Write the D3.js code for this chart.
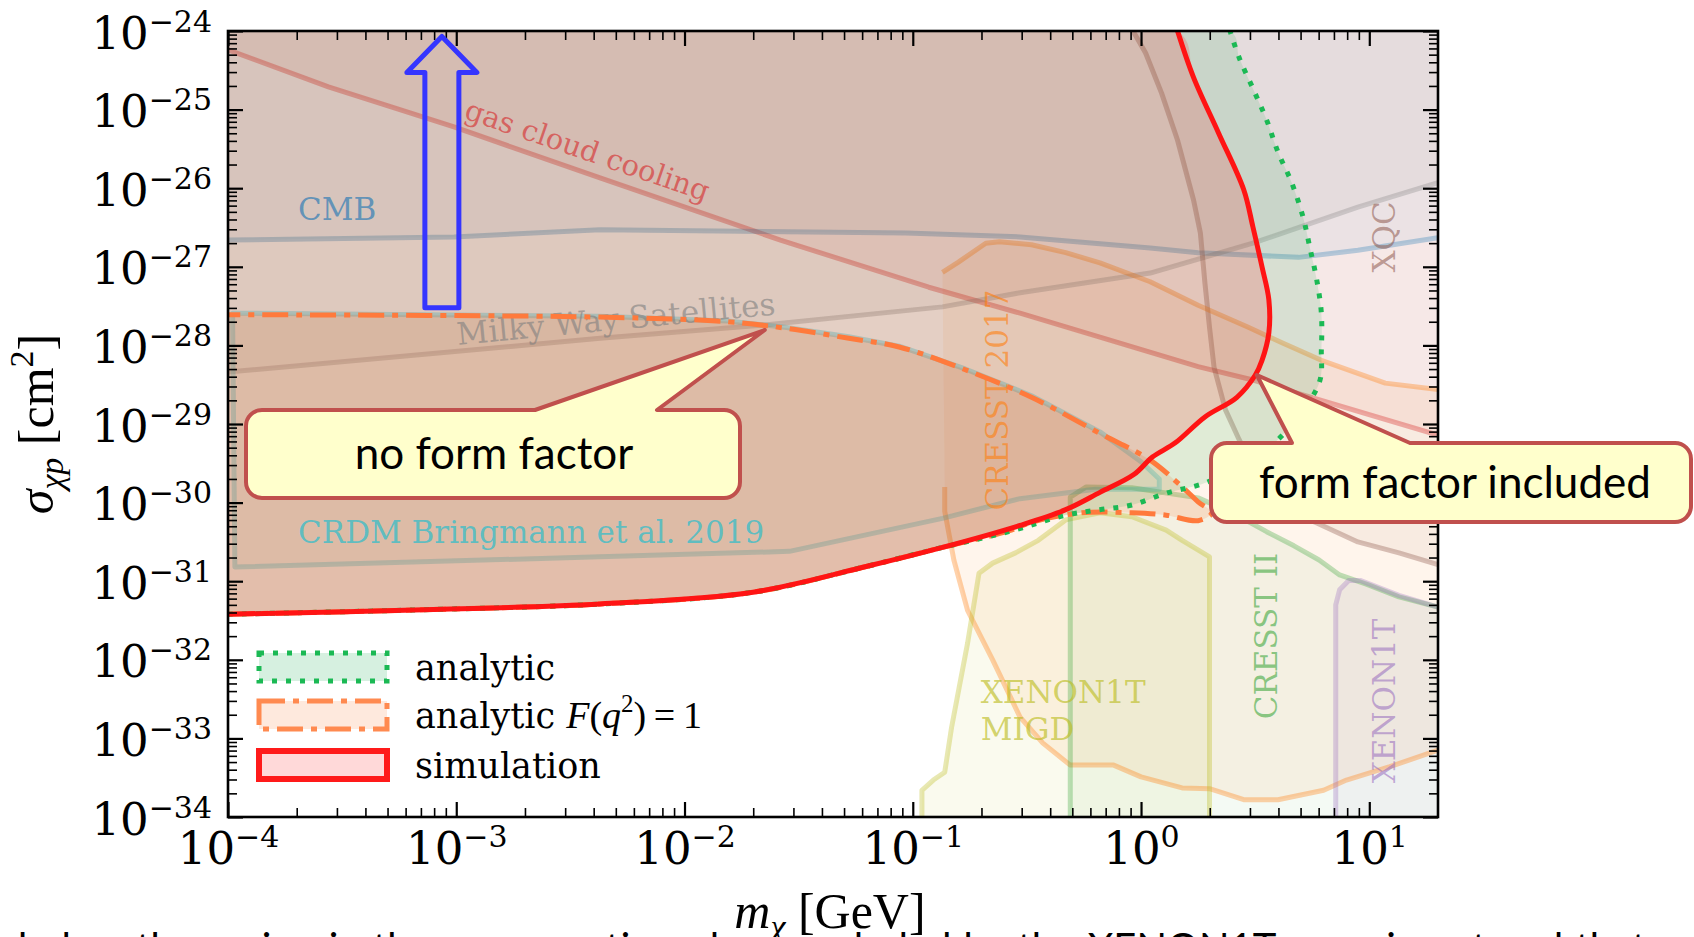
<!DOCTYPE html>
<html>
<head>
<meta charset="utf-8">
<script src="https://cdnjs.cloudflare.com/ajax/libs/d3/7.8.5/d3.min.js"></script>
<style>
  html, body { margin: 0; padding: 0; background: #ffffff; }
  svg { display: block; }
</style>
</head>
<body>
<svg id="chart" width="1694" height="937"></svg>
<script>
// ---------------------------------------------------------------
// Exclusion limits on the DM–proton cross section.
// Every curve is a list of points [log10(m_chi / GeV), log10(sigma / cm^2)].
// ---------------------------------------------------------------

// axis ticks
const xMajorTicks = [1e-4, 1e-3, 1e-2, 1e-1, 1, 10];
const yMajorTicks = [1e-34, 1e-33, 1e-32, 1e-31, 1e-30, 1e-29, 1e-28, 1e-27, 1e-26, 1e-25, 1e-24];

// astrophysical / cosmological bounds (region above the line is excluded)
const gasCloudCooling = [[-4, -24.24], [-3.56, -24.71], [-3.01, -25.22], [-2.37, -25.87], [-1.58, -26.66],
  [-0.93, -27.26], [-0.53, -27.59], [0.25, -28.27], [0.49, -28.44], [1.301, -29.14]];
const cmb = [[-4, -26.66], [-3.01, -26.62], [-2.37, -26.53], [-1.03, -26.57], [-0.53, -26.62],
  [0.04, -26.76], [0.25, -26.82], [0.69, -26.88], [0.95, -26.79], [1.301, -26.63]];
const milkyWay = [[-4, -28.34], [-2.37, -27.91], [-1.65, -27.74], [-0.87, -27.51], [-0.53, -27.33],
  [0.04, -27.08], [0.49, -26.70], [0.95, -26.24], [1.301, -25.93]];

// XQC: region to the right of / above the line
const xqc = [[-0.035, -24.0], [0.02, -24.28], [0.09, -24.79], [0.16, -25.39], [0.23, -26.15], [0.26, -26.57],
  [0.28, -27.21], [0.30, -27.77], [0.32, -28.28], [0.37, -28.82], [0.43, -29.20], [0.50, -29.59],
  [0.58, -29.97], [0.69, -30.16], [0.77, -30.26], [0.95, -30.50], [1.13, -30.64], [1.301, -30.79]];

// CRESST 2017 surface run: band between the upper and lower limit
const cresst2017Upper = [[-0.87, -27.07], [-0.80, -26.94], [-0.68, -26.70], [-0.62, -26.68], [-0.48, -26.72],
  [-0.33, -26.82], [-0.18, -26.95], [0.04, -27.19], [0.25, -27.49], [0.47, -27.77], [0.62, -27.97],
  [0.79, -28.19], [1.07, -28.48], [1.301, -28.56]];
const cresst2017Lower = [[-0.86, -29.80], [-0.86, -30.11], [-0.82, -30.73], [-0.76, -31.37], [-0.65, -32.00],
  [-0.53, -32.73], [-0.43, -33.06], [-0.31, -33.34], [-0.12, -33.34], [0.00, -33.49], [0.18, -33.63],
  [0.30, -33.64], [0.45, -33.78], [0.60, -33.78], [0.80, -33.66], [0.90, -33.53], [1.09, -33.36], [1.301, -33.15]];

// XENON1T Migdal analysis (closed contour)
const xenonMigd = [[-0.96, -34.0], [-0.96, -33.66], [-0.91, -33.53], [-0.86, -33.43], [-0.83, -32.86],
  [-0.76, -31.79], [-0.71, -30.90], [-0.65, -30.77], [-0.55, -30.64], [-0.45, -30.48], [-0.33, -30.22],
  [-0.18, -30.13], [-0.04, -30.18], [0.11, -30.35], [0.18, -30.48], [0.30, -30.69], [0.30, -34.0]];

// CRESST II and XENON1T nuclear-recoil limits (region below the line)
const cresst2 = [[-0.31, -34.0], [-0.31, -29.93], [-0.24, -29.80], [-0.04, -29.81], [0.25, -29.94],
  [0.40, -30.13], [0.55, -30.37], [0.67, -30.55], [0.78, -30.73], [0.87, -30.92], [0.99, -31.04],
  [1.13, -31.20], [1.301, -31.33]];
const xenon1t = [[0.853, -34.0], [0.853, -31.30], [0.87, -31.11], [0.91, -30.99], [0.96, -30.99],
  [1.13, -31.18], [1.301, -31.33]];

// cosmic-ray boosted DM, Bringmann & Pospelov 2019 (closed contour)
const crdm = [[-3.98, -27.59], [-2.37, -27.63], [-1.81, -27.69], [-1.56, -27.77], [-1.28, -27.89],
  [-1.06, -28.01], [-0.77, -28.30], [-0.48, -28.64], [-0.18, -29.10], [0.00, -29.48], [0.08, -29.70],
  [0.08, -29.83], [-0.20, -29.83], [-0.53, -29.95], [-0.87, -30.20], [-1.54, -30.62], [-2.37, -30.69],
  [-3.97, -30.82]];

// this work: analytic with F(q^2)=1, analytic with form factor, and simulation
const analyticNoFF = [[-4, -31.42], [-3.1, -31.36], [-2.37, -31.29], [-1.70, -31.14], [-1.20, -30.81],
  [-0.87, -30.57], [-0.58, -30.36], [-0.48, -30.25], [-0.26, -30.13], [-0.04, -30.13], [0.11, -30.16],
  [0.25, -30.23], [0.31, -30.13], [0.25, -29.99], [0.18, -29.80], [0.04, -29.46], [-0.18, -29.12],
  [-0.48, -28.66], [-0.77, -28.31], [-1.06, -28.02], [-1.28, -27.91], [-1.56, -27.78], [-1.81, -27.70],
  [-2.37, -27.64], [-4, -27.61]];
const analytic = [[-4, -31.42], [-3.1, -31.36], [-2.37, -31.29], [-1.70, -31.14], [-1.20, -30.81],
  [-0.87, -30.57], [-0.58, -30.37], [-0.33, -30.16], [-0.18, -30.09], [-0.04, -30.03], [0.11, -29.88],
  [0.28, -29.75], [0.47, -29.48], [0.61, -29.17], [0.78, -28.48], [0.79, -28.06], [0.79, -27.59],
  [0.77, -27.17], [0.74, -26.76], [0.71, -26.37], [0.66, -25.93], [0.60, -25.54], [0.55, -25.13],
  [0.49, -24.73], [0.43, -24.34], [0.39, -24.0]];
const simulation = [[-4, -31.42], [-3.1, -31.36], [-2.37, -31.29], [-1.70, -31.14], [-1.20, -30.81],
  [-0.87, -30.57], [-0.53, -30.29], [-0.33, -30.09], [-0.18, -29.87], [-0.03, -29.64], [0.05, -29.42],
  [0.15, -29.24], [0.28, -28.91], [0.42, -28.66], [0.50, -28.38], [0.53, -28.19], [0.56, -27.84],
  [0.56, -27.42], [0.53, -27.00], [0.49, -26.49], [0.45, -26.02], [0.34, -25.30], [0.23, -24.59],
  [0.16, -24.0]];

// annotated points
const arrowMass = -3.063;                  // log10 m of the upward arrow
const arrowRange = [-27.52, -24.07];       // log10 sigma, tail -> head
const noFFTip = [-1.648, -27.804];         // callout "no form factor"
const withFFTip = [0.507, -28.377];        // callout "form factor included"

// ---------------------------------------------------------------
const W = 1694, H = 937;
const plot = { left: 228, right: 1438, top: 31, bottom: 817 };
const LX0 = -4, LX1 = Math.log10(20), LY0 = -34, LY1 = -24;

const x = d3.scaleLog().domain([1e-4, 20]).range([plot.left, plot.right]);
const y = d3.scaleLog().domain([1e-34, 1e-24]).range([plot.bottom, plot.top]);
const px = p => x(Math.pow(10, p[0]));
const py = p => y(Math.pow(10, p[1]));

const lineLin = d3.line().x(px).y(py);
const lineSmooth = d3.line().x(px).y(py).curve(d3.curveCatmullRom.alpha(0.5));
const areaPath = pts => lineLin(pts) + "Z";
const areaSmooth = pts => lineSmooth(pts) + "Z";

const svg = d3.select("#chart");
svg.append("rect").attr("width", W).attr("height", H).attr("fill", "#ffffff");

const defs = svg.append("defs");
defs.append("clipPath").attr("id", "plotClip").append("rect")
  .attr("x", plot.left).attr("y", plot.top)
  .attr("width", plot.right - plot.left).attr("height", plot.bottom - plot.top);

const gPlot = svg.append("g").attr("clip-path", "url(#plotClip)");

// --- excluded regions (translucent fills) ---
const regions = [
  { pts: gasCloudCooling.concat([[LX1, LY1], [LX0, LY1]]), color: "#d62728", a: 0.06 },
  { pts: cmb.concat([[LX1, LY1], [LX0, LY1]]), color: "#1f77b4", a: 0.05 },
  { pts: milkyWay.concat([[LX1, LY1], [LX0, LY1]]), color: "#7f7f7f", a: 0.05 },
  { pts: xqc.concat([[LX1, LY1]]), color: "#8c564b", a: 0.06 },
  { pts: cresst2017Upper.concat(cresst2017Lower.slice().reverse()), color: "#ff7f0e", a: 0.08 },
  { pts: xenonMigd, color: "#bcbd22", a: 0.08 },
  { pts: cresst2.concat([[LX1, LY0]]), color: "#2ca02c", a: 0.05 },
  { pts: xenon1t.concat([[LX1, LY0]]), color: "#9467bd", a: 0.06 },
  { pts: crdm, color: "#5f9ea0", a: 0.06 }
];
gPlot.selectAll("path.region").data(regions).join("path")
  .attr("class", "region")
  .attr("d", d => areaPath(d.pts))
  .attr("fill", d => d.color).attr("fill-opacity", d => d.a).attr("stroke", "none");

// --- region boundaries ---
const bounds = [
  { pts: gasCloudCooling, color: "#d62728", a: 0.35 },
  { pts: cmb, color: "#1f77b4", a: 0.3 },
  { pts: milkyWay, color: "#7f7f7f", a: 0.3 },
  { pts: xqc, color: "#8c564b", a: 0.35 },
  { pts: cresst2017Upper, color: "#ff7f0e", a: 0.35 },
  { pts: cresst2017Lower, color: "#ff7f0e", a: 0.35 },
  { pts: xenonMigd, color: "#bcbd22", a: 0.35 },
  { pts: cresst2, color: "#2ca02c", a: 0.3 },
  { pts: xenon1t, color: "#9467bd", a: 0.3 }
];
gPlot.selectAll("path.bound").data(bounds).join("path")
  .attr("class", "bound")
  .attr("d", d => lineLin(d.pts))
  .attr("fill", "none").attr("stroke", d => d.color).attr("stroke-opacity", d => d.a)
  .attr("stroke-width", 5).attr("stroke-linejoin", "round");
gPlot.append("path").attr("d", areaPath(crdm))
  .attr("fill", "none").attr("stroke", "#17becf").attr("stroke-opacity", 0.3)
  .attr("stroke-width", 5).attr("stroke-linejoin", "round");

// --- this work: fills ---
gPlot.append("path").attr("d", areaSmooth(analyticNoFF))
  .attr("fill", "#fa7f37").attr("fill-opacity", 0.17);
gPlot.append("path").attr("d", areaSmooth(analytic.concat([[LX0, LY1]])))
  .attr("fill", "#00a43d").attr("fill-opacity", 0.12);
gPlot.append("path").attr("d", areaSmooth(simulation.concat([[LX0, LY1]])))
  .attr("fill", "#ff0000").attr("fill-opacity", 0.15);

// --- region labels ---
const labelFont = "DejaVu Serif";
const labels = [
  { t: "CMB", p: [-3.693, -26.405], rot: 0, color: "#1f77b4", a: 0.65, size: 31 },
  { t: "gas cloud cooling", p: [-2.971, -25.107], rot: 19, color: "#d62728", a: 0.6, size: 29 },
  { t: "Milky Way Satellites", p: [-2.993, -27.995], rot: -5.5, color: "#7f7f7f", a: 0.6, size: 31 },
  { t: "CRDM Bringmann et al. 2019", p: [-3.693, -30.514], rot: 0, color: "#17becf", a: 0.65, size: 31 },
  { t: "CRESST 2017", p: [-0.583, -28.695], rot: -90, color: "#ff7f0e", a: 0.6, size: 31, mid: true },
  { t: "CRESST II", p: [0.595, -31.697], rot: -90, color: "#2ca02c", a: 0.55, size: 31, mid: true },
  { t: "XENON1T", p: [1.112, -32.524], rot: -90, color: "#9467bd", a: 0.55, size: 31, mid: true },
  { t: "XQC", p: [1.112, -26.621], rot: -90, color: "#8c564b", a: 0.55, size: 31, mid: true }
];
gPlot.selectAll("text.rlabel").data(labels).join("text")
  .attr("class", "rlabel")
  .attr("transform", d => `translate(${px(d.p)},${py(d.p)}) rotate(${d.rot})`)
  .attr("text-anchor", d => d.mid ? "middle" : "start")
  .attr("font-family", labelFont).attr("font-size", d => d.size)
  .attr("fill", d => d.color).attr("fill-opacity", d => d.a)
  .text(d => d.t);
const migd = gPlot.append("text")
  .attr("transform", `translate(${px([-0.702, -32.55])},${py([-0.702, -32.55])})`)
  .attr("font-family", labelFont).attr("font-size", 31)
  .attr("fill", "#bcbd22").attr("fill-opacity", 0.65);
migd.append("tspan").attr("x", 0).attr("y", 0).text("XENON1T");
migd.append("tspan").attr("x", 0).attr("y", 37).text("MIGD");

// --- this work: boundaries ---
gPlot.append("path").attr("d", lineSmooth(analyticNoFF))
  .attr("fill", "none").attr("stroke", "#ff7a3c").attr("stroke-width", 5)
  .attr("stroke-dasharray", "26,8,6,8");
gPlot.append("path").attr("d", lineSmooth(analytic))
  .attr("fill", "none").attr("stroke", "#1bb954").attr("stroke-width", 5)
  .attr("stroke-dasharray", "5,9");
gPlot.append("path").attr("d", lineSmooth(simulation))
  .attr("fill", "none").attr("stroke", "#ff1414").attr("stroke-width", 5)
  .attr("stroke-linejoin", "round");

// --- axes: inward ticks on all four sides ---
const xMinor = [], yMinor = [];
for (let k = -4; k <= 1; k++) for (let j = 2; j <= 9; j++) { const v = j * Math.pow(10, k); if (v < 20) xMinor.push(v); }
for (let k = -34; k < -24; k++) for (let j = 2; j <= 9; j++) yMinor.push(j * Math.pow(10, k));

function styleAxis(g, w) {
  g.select(".domain").remove();
  g.selectAll(".tick line").attr("stroke", "#000").attr("stroke-width", w);
}
const axes = [
  { axis: d3.axisBottom, scale: x, pos: `translate(0,${plot.bottom})`, ticks: xMajorTicks, minor: xMinor },
  { axis: d3.axisTop, scale: x, pos: `translate(0,${plot.top})`, ticks: xMajorTicks, minor: xMinor },
  { axis: d3.axisLeft, scale: y, pos: `translate(${plot.left},0)`, ticks: yMajorTicks, minor: yMinor },
  { axis: d3.axisRight, scale: y, pos: `translate(${plot.right},0)`, ticks: yMajorTicks, minor: yMinor }
];
const axisGroups = axes.map(a => {
  const gMin = svg.append("g").attr("transform", a.pos)
    .call(a.axis(a.scale).tickValues(a.minor).tickSizeInner(-9).tickSizeOuter(0).tickFormat(""));
  styleAxis(gMin, 1.6);
  const gMaj = svg.append("g").attr("transform", a.pos)
    .call(a.axis(a.scale).tickValues(a.ticks).tickSizeInner(-15).tickSizeOuter(0).tickFormat(""));
  styleAxis(gMaj, 2.2);
  return gMaj;
});

// power-of-ten tick labels
function powerLabel(sel, d) {
  const e = Math.round(Math.log10(d));
  sel.text(null);
  sel.append("tspan").text("10");
  sel.append("tspan").attr("font-size", 30).attr("dy", -17).text(e < 0 ? "\u2212" + (-e) : String(e));
}
axisGroups[0].selectAll(".tick text")
  .attr("y", 47).attr("dy", 0).attr("text-anchor", "middle")
  .attr("font-family", "DejaVu Serif").attr("font-size", 45).attr("fill", "#000")
  .each(function (d) { powerLabel(d3.select(this), d); });
axisGroups[2].selectAll(".tick text")
  .attr("x", -16).attr("dy", 0).attr("y", 17).attr("text-anchor", "end")
  .attr("font-family", "DejaVu Serif").attr("font-size", 45).attr("fill", "#000")
  .each(function (d) { powerLabel(d3.select(this), d); });

svg.append("rect")
  .attr("x", plot.left).attr("y", plot.top)
  .attr("width", plot.right - plot.left).attr("height", plot.bottom - plot.top)
  .attr("fill", "none").attr("stroke", "#000").attr("stroke-width", 2.6);

// --- axis titles ---
const xTitle = svg.append("text")
  .attr("x", 830).attr("y", 928).attr("text-anchor", "middle")
  .attr("font-family", "Liberation Serif").attr("font-size", 50).attr("fill", "#000");
xTitle.append("tspan").attr("font-style", "italic").text("m");
xTitle.append("tspan").attr("font-style", "italic").attr("font-size", 34).attr("dy", 10).text("\u03c7");
xTitle.append("tspan").attr("dy", -10).text(" [GeV]");

const yTitle = svg.append("text")
  .attr("transform", "translate(53,424) rotate(-90)").attr("text-anchor", "middle")
  .attr("font-family", "Liberation Serif").attr("font-size", 50).attr("fill", "#000");
yTitle.append("tspan").attr("font-style", "italic").text("\u03c3");
yTitle.append("tspan").attr("font-style", "italic").attr("font-size", 34).attr("dy", 10).text("\u03c7p");
yTitle.append("tspan").attr("dy", -10).text(" [cm");
yTitle.append("tspan").attr("font-size", 34).attr("dy", -20).text("2");
yTitle.append("tspan").attr("dy", 20).text("]");

// --- legend ---
const legend = svg.append("g");
const legendRows = [
  { label: "analytic", fill: "#00a43d", fa: 0.16, stroke: "#1bb954", dash: "5,9", y: 653 },
  { label: "analytic ", extra: true, fill: "#fa7f37", fa: 0.17, stroke: "#ff8a50", dash: "26,8,6,8", y: 701 },
  { label: "simulation", fill: "#ff0000", fa: 0.15, stroke: "#ff1a1a", dash: null, y: 751 }
];
legendRows.forEach(r => {
  legend.append("rect").attr("x", 259).attr("y", r.y).attr("width", 128).attr("height", 28)
    .attr("fill", r.fill).attr("fill-opacity", r.fa)
    .attr("stroke", r.stroke).attr("stroke-width", r.dash ? 5 : 6)
    .attr("stroke-dasharray", r.dash);
  const t = legend.append("text").attr("x", 415).attr("y", r.y + 27)
    .attr("font-family", "DejaVu Serif").attr("font-size", 35).attr("fill", "#000");
  t.append("tspan").text(r.label);
  if (r.extra) {
    t.append("tspan").attr("font-family", "Liberation Serif").attr("font-style", "italic").attr("font-size", 38).text("F");
    t.append("tspan").attr("font-family", "Liberation Serif").attr("font-size", 38).text("(");
    t.append("tspan").attr("font-family", "Liberation Serif").attr("font-style", "italic").attr("font-size", 38).text("q");
    t.append("tspan").attr("font-family", "Liberation Serif").attr("font-size", 25).attr("dy", -16).text("2");
    t.append("tspan").attr("font-family", "Liberation Serif").attr("font-size", 38).attr("dy", 16).text(")\u2009=\u20091");
  }
});

// --- up arrow ---
{
  const ax = x(Math.pow(10, arrowMass));
  const yTail = y(Math.pow(10, arrowRange[0])), yHead = y(Math.pow(10, arrowRange[1]));
  const shaft = 17, wing = 35, headLen = 36;
  const pts = [[ax, yHead], [ax + wing, yHead + headLen], [ax + shaft, yHead + headLen], [ax + shaft, yTail],
    [ax - shaft, yTail], [ax - shaft, yHead + headLen], [ax - wing, yHead + headLen]];
  svg.append("path").attr("d", d3.line()(pts) + "Z")
    .attr("fill", "none").attr("stroke", "#3535ff").attr("stroke-width", 5).attr("stroke-linejoin", "round");
}

// --- callouts ---
function callout(box, base, tip, text, cx, baseY) {
  const [x0, y0, x1, y1] = box, r = 16;
  const d = `M${x0 + r},${y0} L${base[0]},${y0} L${tip[0]},${tip[1]} L${base[1]},${y0} L${x1 - r},${y0}
    A${r},${r} 0 0 1 ${x1},${y0 + r} L${x1},${y1 - r} A${r},${r} 0 0 1 ${x1 - r},${y1}
    L${x0 + r},${y1} A${r},${r} 0 0 1 ${x0},${y1 - r} L${x0},${y0 + r} A${r},${r} 0 0 1 ${x0 + r},${y0} Z`;
  svg.append("path").attr("d", d).attr("fill", "#ffffcc").attr("stroke", "#c0504d")
    .attr("stroke-width", 4).attr("stroke-linejoin", "round");
  svg.append("text").attr("x", cx).attr("y", baseY).attr("text-anchor", "middle")
    .attr("font-family", "Lato").attr("font-size", 44).attr("fill", "#000").text(text);
}
callout([246, 410, 740, 498], [535, 657], [px(noFFTip), py(noFFTip)], "no form factor", 494, 469);
callout([1211, 443, 1691, 522], [1292, 1410], [px(withFFTip), py(withFFTip)], "form factor included", 1455, 498);

// --- caption line below the figure (cut by the frame edge) ---
svg.append("text").attr("x", 18).attr("y", 962)
  .attr("font-family", "Lato").attr("font-size", 40).attr("fill", "#000")
  .attr("word-spacing", 2)
  .text("below the region in the cross-section plane excluded by the XENON1T experiment and that");
</script>
</body>
</html>
